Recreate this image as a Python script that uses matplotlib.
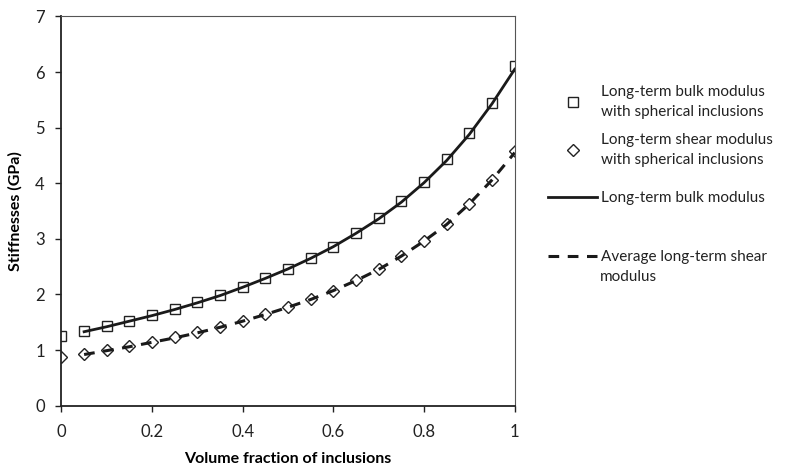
import matplotlib
matplotlib.use('Agg')
import matplotlib.pyplot as plt
import numpy as np

plt.rcParams['font.family'] = ['Lato', 'DejaVu Sans']

# volume fraction of inclusions
vf = [0, 0.05, 0.1, 0.15, 0.2, 0.25, 0.3, 0.35, 0.4, 0.45, 0.5,
      0.55, 0.6, 0.65, 0.7, 0.75, 0.8, 0.85, 0.9, 0.95, 1.0]
# stiffnesses (GPa)
bulk_sph = [1.26, 1.34, 1.43, 1.52, 1.63, 1.74, 1.86, 1.99, 2.13, 2.29, 2.46,
            2.65, 2.86, 3.11, 3.37, 3.68, 4.03, 4.43, 4.90, 5.45, 6.11]
shear_sph = [0.87, 0.93, 1.00, 1.07, 1.14, 1.23, 1.32, 1.42, 1.53, 1.64, 1.77,
             1.91, 2.07, 2.26, 2.45, 2.69, 2.96, 3.26, 3.63, 4.06, 4.58]
# model curves (start at 0.05)
vf_line = vf[1:]
bulk_line = [1.33, 1.42, 1.52, 1.62, 1.73, 1.85, 1.98, 2.13, 2.29, 2.46,
             2.65, 2.86, 3.10, 3.36, 3.66, 4.01, 4.41, 4.88, 5.43, 6.05]
shear_line = [0.92, 0.99, 1.06, 1.14, 1.22, 1.31, 1.41, 1.52, 1.64, 1.77,
              1.91, 2.07, 2.25, 2.45, 2.69, 2.96, 3.26, 3.63, 4.06, 4.55]

labels = ['Long-term bulk modulus\nwith spherical inclusions',
          'Long-term shear modulus\nwith spherical inclusions',
          'Long-term bulk modulus',
          'Average long-term shear\nmodulus']

fig = plt.figure(figsize=(7.98, 4.69), dpi=100)
ax = fig.add_axes([0.077, 0.135, 0.568, 0.83])

l1, = ax.plot(vf, bulk_sph, linestyle='none', marker='s', markersize=7.5,
              markerfacecolor='none', markeredgecolor='#222222', markeredgewidth=1.0)
l2, = ax.plot(vf, shear_sph, linestyle='none', marker='D', markersize=6,
              markerfacecolor='none', markeredgecolor='#222222', markeredgewidth=1.0)
l3, = ax.plot(vf_line, bulk_line, color='#1a1a1a', lw=2.0)
l4, = ax.plot(vf_line, shear_line, color='#1a1a1a', lw=2.2, dashes=(3.5, 2.8))

ax.set_xlim(0, 1)
ax.set_ylim(0, 7)
ax.set_xticks([0, 0.2, 0.4, 0.6, 0.8, 1])
ax.set_xticklabels(['0', '0.2', '0.4', '0.6', '0.8', '1'])
ax.set_yticks(range(0, 8))
ax.tick_params(direction='out', length=4, width=1, labelsize=12, colors='#222222')
ax.tick_params(axis='x', pad=9)
ax.tick_params(axis='y', pad=8)
for s in ['left', 'bottom']:
    ax.spines[s].set_linewidth(1.3)
    ax.spines[s].set_color('#222222')
for s in ['top', 'right']:
    ax.spines[s].set_linewidth(0.8)
    ax.spines[s].set_color('#555555')

ax.set_xlabel('Volume fraction of inclusions', fontsize=11.5, fontweight='bold', labelpad=9)
ax.set_ylabel('Stiffnesses (GPa)', fontsize=11.5, fontweight='bold', labelpad=9)

# legend entries placed one by one (uneven spacing like the original)
handles = [l1, l2, l3, l4]
ypos = [0.782, 0.680, 0.578, 0.452]
for h, lab, yy in zip(handles, labels, ypos):
    first = lab.split('\n')[0] if h is l4 else lab
    lg = fig.legend([h], [first], loc='center left', bbox_to_anchor=(0.687, yy),
                    frameon=False, fontsize=11, handlelength=3.2, handletextpad=0.25,
                    borderpad=0, borderaxespad=0)
    for t in lg.get_texts():
        t.set_color('#222222')
        t.set_linespacing(1.55)
fig.text(0.752, 0.409, labels[3].split('\n')[1], fontsize=11, color='#222222', va='center')

fig.savefig('out.png', dpi=100)
